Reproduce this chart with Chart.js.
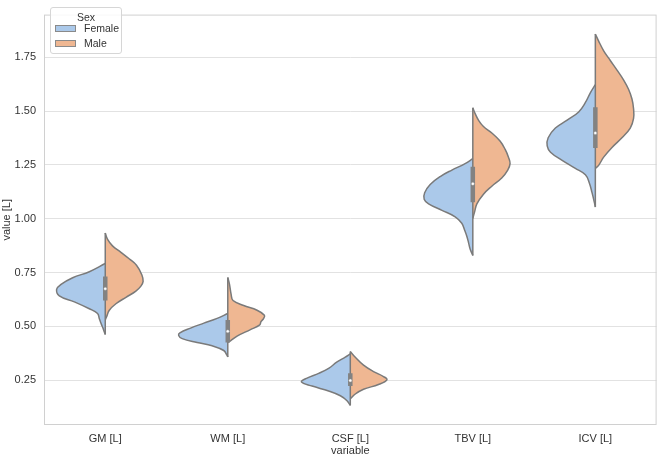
<!DOCTYPE html>
<html>
<head>
<meta charset="utf-8">
<script src="https://cdn.jsdelivr.net/npm/chart.js@4.4.1/dist/chart.umd.min.js"></script>
<style>
html,body{margin:0;padding:0;background:#fff;}
#wrap{position:relative;width:661px;height:458px;}
#legend{position:absolute;left:50px;top:7px;width:72px;height:47px;border:1px solid #d6d6d6;border-radius:3px;background:rgba(255,255,255,0.85);font-family:"Liberation Sans",Arial,sans-serif;font-size:10.5px;color:#333;box-sizing:border-box;}
#legend .t{position:absolute;left:0;right:0;top:3px;text-align:center;line-height:12px;}
#legend .sw{position:absolute;left:4px;width:21px;height:7px;box-sizing:border-box;border:1px solid #8a8a8a;}
#legend .lb{position:absolute;left:33px;line-height:12px;}
</style>
</head>
<body>
<div id="wrap">
<canvas id="c" width="661" height="458"></canvas>
<div id="legend"></div>
</div>
<script>
// ---- data ----
const categories = ['GM [L]', 'WM [L]', 'CSF [L]', 'TBV [L]', 'ICV [L]'];
const sexes = ['Female', 'Male'];
const legendTitle = 'Sex';
const yTicks = [0.25, 0.50, 0.75, 1.00, 1.25, 1.50, 1.75];

// density outlines: [value, half-width (fraction of category slot)]
const femaleGM = [[0.792,0],[0.754,0.130],[0.726,0.266],[0.695,0.361],[0.672,0.397],[0.642,0.375],[0.614,0.252],[0.582,0.130],[0.560,0.063],[0.537,0.049],[0.515,0.035],[0.485,0.014],[0.462,0]];
const maleGM   = [[0.934,0],[0.904,0.019],[0.874,0.059],[0.844,0.128],[0.814,0.195],[0.784,0.255],[0.739,0.299],[0.709,0.309],[0.687,0.291],[0.664,0.250],[0.635,0.169],[0.605,0.087],[0.575,0.033],[0.545,0.011],[0.530,0]];
const femaleWM = [[0.560,0],[0.537,0.087],[0.515,0.195],[0.492,0.304],[0.470,0.391],[0.458,0.401],[0.443,0.372],[0.425,0.250],[0.410,0.128],[0.388,0.033],[0.365,0.006],[0.358,0]];
const maleWM   = [[0.727,0],[0.695,0.014],[0.650,0.027],[0.620,0.043],[0.597,0.130],[0.575,0.239],[0.552,0.299],[0.537,0.293],[0.522,0.271],[0.507,0.261],[0.485,0.185],[0.455,0.076],[0.433,0.022],[0.425,0]];
const femaleCSF = [[0.372,0],[0.357,0.041],[0.335,0.108],[0.305,0.177],[0.282,0.258],[0.260,0.353],[0.242,0.399],[0.223,0.312],[0.200,0.177],[0.178,0.081],[0.155,0.027],[0.133,0]];
const maleCSF   = [[0.383,0],[0.357,0.041],[0.320,0.108],[0.290,0.190],[0.267,0.271],[0.252,0.299],[0.230,0.230],[0.208,0.108],[0.186,0.041],[0.163,0]];
const femaleTBV = [[1.279,0],[1.256,0.063],[1.226,0.171],[1.196,0.266],[1.159,0.348],[1.121,0.393],[1.091,0.397],[1.069,0.361],[1.039,0.252],[1.009,0.144],[0.979,0.090],[0.949,0.068],[0.919,0.049],[0.889,0.035],[0.859,0.022],[0.829,0]];
const maleTBV   = [[1.515,0],[1.488,0.019],[1.458,0.046],[1.428,0.087],[1.398,0.155],[1.361,0.222],[1.323,0.263],[1.286,0.291],[1.256,0.304],[1.226,0.285],[1.189,0.236],[1.151,0.155],[1.114,0.087],[1.069,0.033],[1.031,0.014],[1.001,0]];
const femaleICV = [[1.623,0],[1.585,0.041],[1.540,0.081],[1.496,0.136],[1.458,0.230],[1.421,0.326],[1.376,0.385],[1.338,0.393],[1.309,0.366],[1.271,0.271],[1.234,0.163],[1.204,0.081],[1.166,0.049],[1.121,0.027],[1.076,0.008],[1.054,0]];
const maleICV   = [[1.858,0],[1.825,0.027],[1.780,0.068],[1.735,0.122],[1.690,0.177],[1.645,0.230],[1.601,0.271],[1.556,0.299],[1.511,0.312],[1.466,0.312],[1.421,0.285],[1.376,0.217],[1.331,0.136],[1.286,0.068],[1.248,0.027],[1.234,0]];

// inner box (quartiles and median of both sexes combined)
const boxQ1     = [0.620, 0.425, 0.223, 1.076, 1.328];
const boxMedian = [0.675, 0.477, 0.249, 1.162, 1.398];
const boxQ3     = [0.732, 0.530, 0.282, 1.241, 1.518];

// ---- style ----
const sexColors = {Female: '#abc9ea', Male: '#efb792'};
const edge = '#7a7a7a';
const FONT = '"Liberation Sans", Arial, sans-serif';
const textColor = '#333333';

const femaleProfiles = [femaleGM, femaleWM, femaleCSF, femaleTBV, femaleICV];
const maleProfiles = [maleGM, maleWM, maleCSF, maleTBV, maleICV];

const datasets = [];
categories.forEach((cat, i) => {
  [[femaleProfiles[i], -1, 'Female'], [maleProfiles[i], 1, 'Male']].forEach(([prof, side, sex]) => {
    datasets.push({
      label: sex + ' ' + cat,
      order: 3,
      data: prof.map(([v, w]) => ({x: i + side * w, y: v})),
      fill: 'shape',
      backgroundColor: sexColors[sex],
      borderColor: edge,
      borderWidth: 1.5,
      pointRadius: 0,
      pointHoverRadius: 0,
      tension: 0.4
    });
  });
});
// center line (violin split edge + whisker)
categories.forEach((cat, i) => {
  const vals = femaleProfiles[i].concat(maleProfiles[i]).map(p => p[0]);
  datasets.push({
    label: 'center ' + cat,
    order: 2,
    data: [{x: i, y: Math.min(...vals)}, {x: i, y: Math.max(...vals)}],
    fill: false, borderColor: edge, borderWidth: 1.5, pointRadius: 0
  });
});
// inner box
categories.forEach((cat, i) => {
  datasets.push({
    label: 'box ' + cat,
    order: 1,
    data: [{x: i, y: boxQ1[i]}, {x: i, y: boxQ3[i]}],
    fill: false, borderColor: '#828282', borderWidth: 4.5, borderCapStyle: 'butt', pointRadius: 0
  });
});
// medians
datasets.push({
  label: 'median',
  order: 0,
  data: categories.map((c, i) => ({x: i, y: boxMedian[i]})),
  showLine: false, fill: false,
  pointRadius: 1.5, pointBackgroundColor: '#ffffff', pointBorderColor: '#9a9a9a', pointBorderWidth: 0.4
});

const framePlugin = {
  id: 'frame',
  beforeDatasetsDraw(chart) {
    const {ctx, chartArea: a} = chart;
    ctx.save();
    ctx.strokeStyle = '#d0d0d0';
    ctx.lineWidth = 1;
    ctx.strokeRect(a.left + 0.5, a.top + 0.5, a.right - a.left - 1, a.bottom - a.top - 1);
    ctx.restore();
  }
};

Chart.defaults.font.family = FONT;
Chart.defaults.font.size = 11;
Chart.defaults.color = textColor;

new Chart(document.getElementById('c'), {
  type: 'line',
  data: {datasets},
  options: {
    indexAxis: 'y',
    responsive: false,
    animation: false,
    devicePixelRatio: 1,
    events: [],
    layout: {padding: {top: 2, right: 3, left: 0, bottom: 0}},
    plugins: {legend: {display: false}, tooltip: {enabled: false}},
    scales: {
      x: {
        type: 'linear', min: -0.5, max: 4.5,
        afterBuildTicks: s => { s.ticks = categories.map((c, i) => ({value: i})); },
        afterFit: s => { s.height = 33; },
        ticks: {callback: v => categories[v], padding: 7, maxRotation: 0, autoSkip: false, color: textColor},
        grid: {display: false, drawTicks: false},
        border: {display: false},
        title: {display: true, text: 'variable', padding: {top: 0, bottom: 0}, color: textColor, font: {size: 11}}
      },
      y: {
        type: 'linear', min: 0.042, max: 1.948,
        afterBuildTicks: s => { s.ticks = yTicks.map(v => ({value: v})); },
        afterFit: s => { s.width = 44; },
        ticks: {callback: v => v.toFixed(2), padding: 8, color: textColor},
        grid: {color: '#e2e2e2', lineWidth: 1, drawTicks: false},
        border: {display: false},
        title: {display: true, text: 'value [L]', padding: {top: 0, bottom: 0}, color: textColor, font: {size: 11}}
      }
    }
  },
  plugins: [framePlugin]
});

// legend built from the data arrays
const lg = document.getElementById('legend');
const t = document.createElement('div');
t.className = 't'; t.textContent = legendTitle; lg.appendChild(t);
sexes.forEach((s, k) => {
  const sw = document.createElement('div');
  sw.className = 'sw'; sw.style.top = (17 + k * 15) + 'px'; sw.style.background = sexColors[s];
  lg.appendChild(sw);
  const lb = document.createElement('div');
  lb.className = 'lb'; lb.style.top = (14 + k * 15) + 'px'; lb.textContent = s;
  lg.appendChild(lb);
});
</script>
</body>
</html>
